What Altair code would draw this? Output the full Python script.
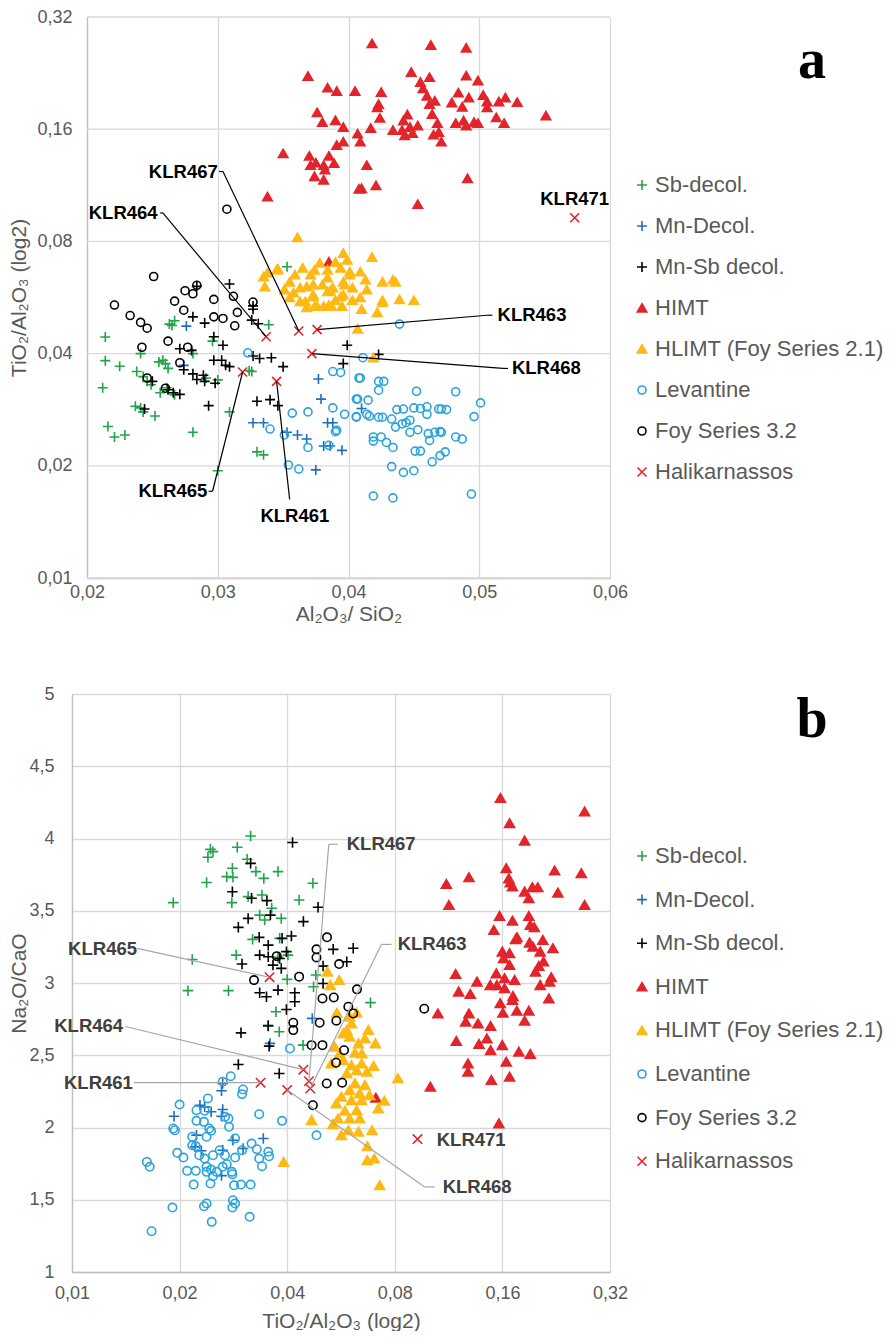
import altair as alt
import pandas as pd

# ---------------- categories / styles ----------------
CATEGORIES = ["Sb-decol.", "Mn-Decol.", "Mn-Sb decol.", "HIMT",
              "HLIMT (Foy Series 2.1)", "Levantine", "Foy Series 3.2", "Halikarnassos"]
STROKES = ["#22a34a", "#1f6dbf", "#000000", "#e3242b", "#ffb914", "#29a3dd", "#000000", "#e3242b"]
FILLS = ["transparent", "transparent", "transparent", "#e3242b", "#ffb914",
         "transparent", "transparent", "transparent"]
PLUS = "M-1,0L1,0M0,-1L0,1"
TRI = "M0,-0.85L0.95,0.8L-0.95,0.8Z"
CIRC = "M0.8,0A0.8,0.8,0,1,1,-0.8,0A0.8,0.8,0,1,1,0.8,0Z"
XSYM = "M-0.9,-0.9L0.9,0.9M-0.9,0.9L0.9,-0.9"
SHAPES = [PLUS, PLUS, PLUS, TRI, TRI, CIRC, CIRC, XSYM]

# ---------------- Halikarnassos samples ----------------
HALI_NAMES = ["KLR461", "KLR463", "KLR464", "KLR465", "KLR467", "KLR468", "KLR471"]
HALI_AL_SI = [0.0345, 0.0376, 0.0337, 0.0319, 0.0362, 0.0372, 0.0573]
HALI_TI_AL = [0.0337, 0.0464, 0.0444, 0.0357, 0.0460, 0.0400, 0.0926]
HALI_NA_CA = [2.31, 2.27, 2.40, 3.04, 2.32, 2.26, 1.92]

# ---------------- axis ticks ----------------
A_X_TICKS = [0.02, 0.03, 0.04, 0.05, 0.06]
LOG2_TICKS = [0.01, 0.02, 0.04, 0.08, 0.16, 0.32]
B_Y_TICKS = [1, 1.5, 2, 2.5, 3, 3.5, 4, 4.5, 5]

# ---------------- panel a: Al2O3/SiO2 vs TiO2/Al2O3 ----------------
A_SB = [(0.0353,0.0684),(0.0339,0.0478),(0.0263,0.0480),(0.0267,0.0490),(0.0265,0.0476),(0.0214,0.0443),
        (0.0241,0.0400),(0.0214,0.0383),(0.0225,0.0370),(0.0255,0.0380),(0.0258,0.0384),(0.0260,0.0376),
        (0.0262,0.0365),(0.0281,0.0400),(0.0296,0.0432),(0.0238,0.0358),(0.0243,0.0347),(0.0246,0.0337),
        (0.0249,0.0330),(0.0261,0.0324),(0.0212,0.0324),(0.0256,0.0314),(0.0267,0.0310),(0.0300,0.0340),
        (0.0291,0.0344),(0.0237,0.0289),(0.0241,0.0286),(0.0243,0.0279),(0.0252,0.0272),(0.0309,0.0279),
        (0.0216,0.0255),(0.0221,0.0239),(0.0229,0.0242),(0.0281,0.0246),(0.0330,0.0218),(0.0335,0.0214),
        (0.0300,0.0194),(0.0324,0.0360),(0.0326,0.0358)]
A_MN = [(0.0276,0.0474),(0.0274,0.0372),(0.0377,0.0342),(0.0379,0.0302),(0.0327,0.0261),(0.0335,0.0261),
        (0.0353,0.0246),(0.0361,0.0242),(0.0368,0.0236),(0.0384,0.0261),(0.0388,0.0261),(0.0381,0.0226),
        (0.0386,0.0226),(0.0395,0.0220),(0.0375,0.0195),(0.0410,0.0285)]
A_MNSB = [(0.0284,0.0606),(0.0309,0.0615),(0.0327,0.0537),(0.0327,0.0526),(0.0281,0.0502),(0.0290,0.0483),
          (0.0297,0.0444),(0.0304,0.0421),(0.0326,0.0492),(0.0331,0.0481),(0.0271,0.0412),(0.0280,0.0408),
          (0.0297,0.0384),(0.0303,0.0384),(0.0306,0.0372),(0.0309,0.0369),(0.0327,0.0394),(0.0332,0.0388),
          (0.0341,0.0390),(0.0350,0.0369),(0.0274,0.0362),(0.0281,0.0353),(0.0289,0.0350),(0.0284,0.0341),
          (0.0290,0.0337),(0.0298,0.0333),(0.0250,0.0337),(0.0262,0.0320),(0.0266,0.0314),(0.0271,0.0311),
          (0.0244,0.0284),(0.0293,0.0290),(0.0330,0.0298),(0.0340,0.0301),(0.0346,0.0290),(0.0399,0.0421),
          (0.0396,0.0376),(0.0423,0.0398)]
A_HIMT = [(0.0369,0.222),(0.0384,0.2066),(0.0391,0.2024),(0.0405,0.2024),(0.0376,0.1774),(0.0380,0.167),
          (0.0390,0.169),(0.0396,0.162),(0.0407,0.1555),(0.0391,0.145),(0.0396,0.148),(0.0350,0.1377),
          (0.0370,0.1356),(0.0385,0.1356),(0.0371,0.128),(0.0375,0.130),(0.0381,0.128),(0.0389,0.1296),
          (0.0382,0.1245),(0.0374,0.1195),(0.0381,0.117),(0.0338,0.1054),(0.0408,0.1106),(0.0385,0.0705),
          (0.0418,0.2716),(0.0463,0.269),(0.0490,0.2645),(0.0448,0.2277),(0.0455,0.214),(0.0462,0.2205),
          (0.0490,0.2226),(0.0499,0.216),(0.0457,0.2057),(0.0425,0.201),(0.0460,0.1965),(0.0466,0.1905),
          (0.0462,0.1866),(0.0423,0.1866),(0.0422,0.183),(0.0424,0.1714),(0.0445,0.175),(0.0442,0.1687),
          (0.0464,0.1756),(0.0468,0.166),(0.0484,0.2004),(0.0479,0.1886),(0.0492,0.1944),(0.0487,0.1837),
          (0.0503,0.1975),(0.0506,0.1897),(0.0506,0.183),(0.0515,0.1897),(0.0520,0.1944),(0.0529,0.189),
          (0.0513,0.172),(0.0519,0.166),(0.0551,0.174),(0.0482,0.166),(0.0488,0.1687),(0.0490,0.1636),
          (0.0496,0.167),(0.0499,0.166),(0.0434,0.159),(0.0441,0.159),(0.0443,0.154),(0.0447,0.162),
          (0.0449,0.156),(0.0453,0.1636),(0.0417,0.161),(0.0409,0.148),(0.0465,0.1546),(0.0469,0.157),
          (0.0471,0.148),(0.0414,0.128),(0.0410,0.111),(0.0421,0.113),(0.0491,0.118),(0.0453,0.1006)]
A_HLIMT = [(0.0361,0.0820),(0.0345,0.0671),(0.0374,0.0671),(0.0396,0.0744),(0.0335,0.0643),(0.0336,0.0605),
           (0.0418,0.0726),(0.0409,0.0663),(0.0426,0.0623),(0.0436,0.0623),(0.0414,0.0594),(0.0439,0.0559),
           (0.0450,0.0556),(0.0426,0.0556),(0.0365,0.0679),(0.0384,0.0671),(0.0390,0.0704),(0.0399,0.0713),
           (0.0434,0.0631),(0.0368,0.0605),(0.0380,0.0612),(0.0388,0.0601),(0.0396,0.0623),(0.0409,0.0566),
           (0.0426,0.0549),(0.0422,0.0516),(0.0410,0.0526),(0.0395,0.0536),(0.0387,0.0536),(0.0381,0.0536),
           (0.0374,0.0536),(0.0367,0.0552),(0.0373,0.0576),(0.0384,0.0587),(0.0394,0.0569),(0.0407,0.0466),
           (0.0419,0.0390),(0.0338,0.0659),(0.0346,0.0675),(0.0355,0.0623),(0.0363,0.0601),(0.0373,0.0612),
           (0.0384,0.0639),(0.0394,0.0679),(0.0401,0.0651),(0.0355,0.0566),(0.0363,0.0552),(0.0373,0.0569),
           (0.0386,0.0590),(0.0396,0.0576),(0.0368,0.0532),(0.0376,0.0536),(0.0385,0.0540),(0.0403,0.0601),
           (0.0358,0.0583),(0.0403,0.0556),(0.0401,0.0663),(0.0378,0.0700),(0.0371,0.0651),(0.0359,0.0651),
           (0.0351,0.0594),(0.0390,0.0556),(0.0397,0.0612),(0.0413,0.0631)]
A_LEV = [(0.0323,0.0402),(0.0357,0.0277),(0.0369,0.0279),(0.0340,0.0251),(0.0351,0.0242),(0.0369,0.0224),
         (0.0385,0.0227),(0.0388,0.0286),(0.0397,0.0275),(0.0406,0.0271),(0.0390,0.0247),(0.0388,0.0358),
         (0.0394,0.0356),(0.0408,0.0344),(0.0406,0.0302),(0.0354,0.0201),(0.0362,0.0196),(0.0439,0.0480),
         (0.0411,0.0390),(0.0409,0.0344),(0.0423,0.0337),(0.0427,0.0337),(0.0423,0.0319),(0.0452,0.0317),
         (0.0482,0.0316),(0.0501,0.0295),(0.0407,0.0302),(0.0415,0.0300),(0.0406,0.0270),(0.0414,0.0275),
         (0.0416,0.0272),(0.0423,0.0270),(0.0426,0.0270),(0.0437,0.0283),(0.0442,0.0284),(0.0450,0.0286),
         (0.0455,0.0285),(0.0460,0.0288),(0.0460,0.0275),(0.0469,0.0284),(0.0471,0.0284),(0.0475,0.0283),
         (0.0496,0.0271),(0.0433,0.0267),(0.0436,0.0254),(0.0441,0.0259),(0.0444,0.0261),(0.0447,0.0265),
         (0.0447,0.0246),(0.0453,0.0250),(0.0461,0.0244),(0.0462,0.0234),(0.0466,0.0246),(0.0470,0.0247),
         (0.0471,0.0246),(0.0482,0.0239),(0.0487,0.0236),(0.0391,0.0249),(0.0419,0.0239),(0.0419,0.0233),
         (0.0425,0.0239),(0.0429,0.0231),(0.0434,0.0224),(0.0451,0.0219),(0.0455,0.0219),(0.0464,0.0205),
         (0.0470,0.0213),(0.0474,0.0218),(0.0433,0.0199),(0.0442,0.0192),(0.0450,0.0194),(0.0419,0.0166),
         (0.0434,0.0164),(0.0494,0.0168)]
A_FOY = [(0.0307,0.0976),(0.0251,0.0644),(0.0284,0.0610),(0.0275,0.0590),(0.0281,0.0579),(0.0297,0.0559),
         (0.0312,0.0570),(0.0267,0.0553),(0.0221,0.0540),(0.0327,0.0550),(0.0274,0.0523),(0.0297,0.0502),
         (0.0304,0.0497),(0.0315,0.0516),(0.0313,0.0475),(0.0233,0.0506),(0.0241,0.0485),(0.0246,0.0468),
         (0.0262,0.0432),(0.0242,0.0416),(0.0277,0.0416),(0.0271,0.0378),(0.0246,0.0344),(0.0260,0.0323)]

# ---------------- panel b: TiO2/Al2O3 vs Na2O/CaO ----------------
B_SB = [(0.0316,4.017),(0.0244,3.925),(0.0248,3.909),(0.0240,3.870),(0.0290,3.939),(0.0309,3.856),
        (0.0281,3.794),(0.0271,3.736),(0.0282,3.731),(0.0327,3.771),(0.0344,3.724),(0.0377,3.771),
        (0.0472,3.690),(0.0238,3.695),(0.0280,3.556),(0.0311,3.598),(0.0340,3.609),(0.0192,3.556),
        (0.0432,3.574),(0.0362,3.517),(0.0335,3.470),(0.0346,3.436),(0.0385,3.447),(0.0320,3.302),
        (0.0381,3.309),(0.0217,3.163),(0.0288,3.193),(0.0377,3.177),(0.0402,3.193),(0.0211,2.947),
        (0.0274,2.947),(0.0400,3.025),(0.0481,3.055),(0.0474,2.974),(0.0372,2.801),(0.0354,2.708),
        (0.0380,2.663),(0.0684,2.864),(0.0443,2.570)]
B_MN = [(0.0264,2.305),(0.0262,2.254),(0.0193,2.078),(0.0228,2.154),(0.0235,2.143),(0.0245,2.109),
        (0.0264,2.125),(0.0262,2.078),(0.0223,1.947),(0.0221,1.866),(0.0230,1.839),(0.0264,1.843),
        (0.0282,1.912),(0.0301,1.855),(0.0343,1.924),(0.0262,1.667),(0.0358,2.582),(0.0470,2.755)]
B_MNSB = [(0.0414,3.972),(0.0316,3.828),(0.0281,3.632),(0.0318,3.586),(0.0351,3.570),(0.0488,3.524),
          (0.0359,3.470),(0.0311,3.447),(0.0292,3.385),(0.0444,3.425),(0.0334,3.316),(0.0354,3.262),
          (0.0387,3.309),(0.0411,3.325),(0.0335,3.193),(0.0354,3.182),(0.0381,3.170),(0.0398,3.217),
          (0.0299,3.131),(0.0365,3.124),(0.0385,3.101),(0.0538,3.233),(0.0612,3.240),(0.0504,3.117),
          (0.0587,3.147),(0.0335,2.933),(0.0350,2.905),(0.0377,2.951),(0.0420,2.933),(0.0420,2.870),
          (0.0398,2.817),(0.0504,2.997),(0.0354,2.702),(0.0297,2.655),(0.0356,2.563),(0.0292,2.436),
          (0.0380,2.374)]
B_HIMT = [(0.158,4.28),(0.2717,4.186),(0.1676,4.105),(0.1846,3.985),(0.164,3.794),(0.224,3.778),
          (0.266,3.759),(0.129,3.731),(0.1115,3.685),(0.1668,3.724),(0.1684,3.695),(0.1707,3.667),
          (0.1846,3.632),(0.1897,3.586),(0.1940,3.662),(0.201,3.662),(0.2287,3.625),(0.2717,3.539),
          (0.1134,3.539),(0.1571,3.463),(0.1707,3.431),(0.1897,3.463),(0.1514,3.366),(0.1915,3.401),
          (0.1965,3.385),(0.1742,3.302),(0.1758,3.316),(0.2076,3.297),(0.1906,3.279),(0.1947,3.251),
          (0.1599,3.217),(0.1676,3.205),(0.1612,3.171),(0.2041,3.217),(0.2215,3.240),(0.2085,3.148),
          (0.1676,3.124),(0.2023,3.117),(0.198,3.078),(0.1538,3.066),(0.1623,3.032),(0.1731,3.020),
          (0.1184,3.062),(0.1358,3.009),(0.148,2.985),(0.1544,2.985),(0.1623,2.963),(0.2192,3.039),
          (0.2168,3.009),(0.2041,2.985),(0.1207,2.940),(0.1301,2.923),(0.1713,2.909),(0.1707,2.882),
          (0.2158,2.893),(0.1578,2.859),(0.1756,2.808),(0.1897,2.808),(0.129,2.789),(0.1056,2.789),
          (0.1605,2.794),(0.1846,2.739),(0.1263,2.732),(0.1367,2.720),(0.1483,2.702),(0.1448,2.616),
          (0.1189,2.598),(0.1376,2.577),(0.1483,2.535),(0.1599,2.570),(0.1779,2.524),(0.1915,2.508),
          (0.164,2.455),(0.1282,2.443),(0.1282,2.386),(0.1676,2.351),(0.149,2.328),(0.1006,2.282),
          (0.0708,2.206),(0.1564,2.028)]
B_HLIMT = [(0.0518,3.078),(0.0528,2.985),(0.0559,3.020),(0.0675,2.674),(0.0551,2.794),(0.0626,2.794),
           (0.0605,2.720),(0.0587,2.674),(0.0598,2.767),(0.0660,2.616),(0.0706,2.582),(0.0633,2.582),
           (0.0598,2.628),(0.0574,2.651),(0.0543,2.559),(0.0531,2.443),(0.0574,2.466),(0.0605,2.431),
           (0.0646,2.443),(0.0698,2.425),(0.0668,2.386),(0.0626,2.397),(0.0587,2.374),(0.0619,2.517),
           (0.0619,2.305),(0.0660,2.293),(0.0638,2.236),(0.0598,2.258),(0.0567,2.213),(0.0605,2.189),
           (0.0646,2.189),(0.0680,2.224),(0.0748,2.185),(0.0719,2.132),(0.0816,2.340),(0.0549,2.166),
           (0.0580,2.116),(0.0626,2.120),(0.0638,2.062),(0.0598,2.062),(0.0555,2.062),(0.0537,2.023),
           (0.0468,2.051),(0.0567,1.947),(0.0593,1.981),(0.0633,1.970),(0.0691,1.981),(0.0670,1.870),
           (0.0670,1.774),(0.0701,1.785),(0.0726,1.600),(0.0391,1.762),(0.0561,2.512),(0.0647,2.512)]
B_LEV = [(0.0407,2.547),(0.0278,2.355),(0.0264,2.317),(0.0301,2.263),(0.0299,2.231),(0.0240,2.201),
         (0.0200,2.159),(0.0223,2.120),(0.0235,2.116),(0.0334,2.092),(0.0387,2.046),(0.0268,2.074),
         (0.0274,2.062),(0.0223,2.046),(0.0234,2.039),(0.0242,1.993),(0.0245,1.977),(0.0275,2.005),
         (0.0192,1.993),(0.0194,1.981),(0.0217,1.936),(0.0238,1.936),(0.0217,1.877),(0.0222,1.871),
         (0.0286,1.924),(0.0318,1.889),(0.0329,1.850),(0.0354,1.832),(0.0356,1.801),(0.0197,1.825),
         (0.0205,1.792),(0.0227,1.808),(0.0235,1.785),(0.0248,1.808),(0.0259,1.843),(0.0268,1.808),
         (0.0286,1.792),(0.0299,1.843),(0.0334,1.785),(0.0162,1.762),(0.0165,1.728),(0.0238,1.728),
         (0.0245,1.709),(0.0264,1.728),(0.0271,1.746),(0.0340,1.732),(0.0210,1.700),(0.0222,1.700),
         (0.0238,1.693),(0.0254,1.693),(0.0280,1.693),(0.0281,1.677),(0.0248,1.663),(0.0219,1.605),
         (0.0244,1.612),(0.0284,1.600),(0.0297,1.605),(0.0316,1.605),(0.0191,1.446),(0.0234,1.455),
         (0.0238,1.474),(0.0282,1.497),(0.0286,1.474),(0.0281,1.446),(0.0314,1.382),(0.0246,1.347),
         (0.0167,1.282),(0.0483,1.946)]
B_FOY = [(0.0517,3.316),(0.0483,3.233),(0.0374,3.186),(0.0483,3.177),(0.0559,3.131),(0.0432,3.044),
         (0.0323,3.020),(0.0502,2.893),(0.0540,2.900),(0.0627,2.956),(0.0416,2.725),(0.0493,2.725),
         (0.0549,2.739),(0.0967,2.822),(0.0593,2.836),(0.0612,2.789),(0.0416,2.674),(0.0468,2.570),
         (0.0502,2.570),(0.0577,2.535),(0.0548,2.448),(0.0516,2.305),(0.0570,2.310),(0.0472,2.154)]

# ---------------- annotation layout (label anchor + elbow, in data units) ----------------
LABELS_A = [("KLR467", 0.0300, 0.1232, "right"), ("KLR464", 0.0254, 0.0954, "right"),
            ("KLR463", 0.0514, 0.0507, "left"), ("KLR468", 0.0525, 0.0365, "left"),
            ("KLR465", 0.0292, 0.01709, "right"), ("KLR461", 0.0359, 0.01467, "center"),
            ("KLR471", 0.0573, 0.1039, "center")]
LEADERS_A = [("KLR467", (0.0301, 0.1232), (0.0304, 0.1232)),
             ("KLR464", (0.0256, 0.0954), (0.0258, 0.0954)),
             ("KLR463", (0.0510, 0.0507), (0.0506, 0.0507)),
             ("KLR468", (0.0522, 0.0365), (0.0518, 0.0365)),
             ("KLR465", (0.0293, 0.01709), (0.0296, 0.01709)),
             ("KLR461", (0.0355, 0.01626), (0.0355, 0.01626))]
LABELS_B = [("KLR467", 0.0587, 3.96, "left"), ("KLR463", 0.0815, 3.267, "left"),
            ("KLR465", 0.0152, 3.233, "right"), ("KLR464", 0.0139, 2.699, "right"),
            ("KLR461", 0.0148, 2.311, "right"), ("KLR468", 0.1089, 1.589, "left"),
            ("KLR471", 0.1048, 1.914, "left")]
LEADERS_B = [("KLR467", (0.0554, 3.96), (0.0523, 3.96)),
             ("KLR463", (0.0783, 3.267), (0.0734, 3.267)),
             ("KLR465", (0.0152, 3.240), (0.0152, 3.240)),
             ("KLR464", (0.0141, 2.699), (0.0141, 2.699)),
             ("KLR461", (0.0149, 2.311), (0.0149, 2.311)),
             ("KLR468", (0.1034, 1.589), (0.0970, 1.589))]


def points_frame(series, hx, hy):
    rows = []
    for cat, pts in zip(CATEGORIES[:7], series):
        rows += [{"group": cat, "x": x, "y": y} for x, y in pts]
    rows += [{"group": CATEGORIES[7], "x": x, "y": y} for x, y in zip(hx, hy)]
    return pd.DataFrame(rows)


def leader_frame(leaders, hx, hy):
    idx = {n: i for i, n in enumerate(HALI_NAMES)}
    rows = []
    for name, (sx, sy), (ex, ey) in leaders:
        i = idx[name]
        rows.append({"x": sx, "y": sy, "x2": ex, "y2": ey})
        rows.append({"x": ex, "y": ey, "x2": hx[i], "y2": hy[i]})
    return pd.DataFrame(rows)


def label_frame(labels):
    return pd.DataFrame([{"name": n, "x": x, "y": y, "align": a} for n, x, y, a in labels])


stroke_scale = alt.Scale(domain=CATEGORIES, range=STROKES)
fill_scale = alt.Scale(domain=CATEGORIES, range=FILLS)
shape_scale = alt.Scale(domain=CATEGORIES, range=SHAPES)

GRID = "#d9d9d9"
AXIS_COMMON = dict(ticks=False, labelFont="Liberation Sans", labelFontSize=18, labelColor="#595959",
                   titleFont="Liberation Sans", titleFontSize=21, titleColor="#595959",
                   titleFontWeight="normal", domainColor="#bfbfbf", domainWidth=1.3,
                   gridColor=GRID, gridWidth=1.3, labelFlush=False)
DEC2 = "replace(format(datum.value, '.2f'), '.', ',')"


def legend(lx, ly, row_pad):
    return alt.Legend(title=None, orient="none", legendX=lx, legendY=ly, labelFontSize=22,
                      labelFont="Liberation Sans", labelColor="#595959", symbolSize=100,
                      symbolStrokeWidth=1.6, rowPadding=row_pad, labelOffset=2, padding=0,
                      labelLimit=400)


def panel(df, xenc, yenc, leaders, labels, text_color, line_color, size, leg, letter, letter_xy,
          extra_grid=None):
    layers = []
    if extra_grid is not None:
        layers.append(extra_grid)
    pts = alt.Chart(df).mark_point(size=size, strokeWidth=1.6, opacity=1).encode(
        x=xenc, y=yenc,
        stroke=alt.Stroke("group:N", scale=stroke_scale, legend=leg),
        fill=alt.Fill("group:N", scale=fill_scale, legend=leg),
        shape=alt.Shape("group:N", scale=shape_scale, legend=leg),
    )
    rules = alt.Chart(leaders).mark_rule(color=line_color, strokeWidth=1.2).encode(
        x="x:Q", y="y:Q", x2="x2:Q", y2="y2:Q")
    layers += [pts, rules]
    for al in ["left", "right", "center"]:
        sub = labels[labels["align"] == al]
        layers.append(alt.Chart(sub).mark_text(align=al, baseline="middle", font="Liberation Sans",
                                               fontSize=18.5, fontWeight="bold", color=text_color)
                      .encode(x="x:Q", y="y:Q", text="name:N"))
    layers.append(alt.Chart(pd.DataFrame({"t": [letter]})).mark_text(
        align="center", baseline="alphabetic", font="Liberation Serif", fontSize=56,
        fontWeight="bold", color="#000000").encode(
        x=alt.value(letter_xy[0]), y=alt.value(letter_xy[1]), text="t:N"))
    return alt.layer(*layers)


# ---- panel a  (group is 538 wide; plot range starts 15 px in, so both panels share an origin)
df_a = points_frame([A_SB, A_MN, A_MNSB, A_HIMT, A_HLIMT, A_LEV, A_FOY], HALI_AL_SI, HALI_TI_AL)
xa = alt.X("x:Q", scale=alt.Scale(domain=[0.02, 0.06], nice=False, zero=False, range=[15, 538]),
           axis=alt.Axis(values=A_X_TICKS, labelExpr=DEC2,
                         title="Al₂O₃/ SiO₂", labelPadding=5, titlePadding=2, **AXIS_COMMON))
ya = alt.Y("y:Q", scale=alt.Scale(type="log", base=2, domain=[0.01, 0.32], nice=False),
           axis=alt.Axis(values=LOG2_TICKS, labelExpr=DEC2, grid=False, offset=-15,
                         title="TiO₂/Al₂O₃ (log2)", labelPadding=15, titleX=-68,
                         titleBaseline="middle", **AXIS_COMMON))
grid_a = alt.Chart(pd.DataFrame({"y": LOG2_TICKS, "x": A_X_TICKS[0], "x2": A_X_TICKS[-1]})).mark_rule(
    color=GRID, strokeWidth=1.3).encode(x="x:Q", x2="x2:Q", y="y:Q")
chart_a = panel(df_a, xa, ya, leader_frame(LEADERS_A, HALI_AL_SI, HALI_TI_AL), label_frame(LABELS_A),
                "#000000", "#000000", 100, legend(559, 157, 19), "a", (740, 61), extra_grid=grid_a
                ).properties(width=538, height=561)

# ---- panel b
df_b = points_frame([B_SB, B_MN, B_MNSB, B_HIMT, B_HLIMT, B_LEV, B_FOY], HALI_TI_AL, HALI_NA_CA)
xb = alt.X("x:Q", scale=alt.Scale(type="log", base=2, domain=[0.01, 0.32], nice=False),
           axis=alt.Axis(values=LOG2_TICKS, labelExpr=DEC2,
                         title="TiO₂/Al₂O₃ (log2)", labelPadding=12, titlePadding=8, **AXIS_COMMON))
yb = alt.Y("y:Q", scale=alt.Scale(domain=[1, 5], nice=False, zero=False),
           axis=alt.Axis(values=B_Y_TICKS,
                         labelExpr="replace(format(datum.value, '~g'), '.', ',')",
                         title="Na₂O/CaO", labelPadding=18, titleX=-53, titleBaseline="middle",
                         **AXIS_COMMON))
chart_b = panel(df_b, xb, yb, leader_frame(LEADERS_B, HALI_TI_AL, HALI_NA_CA), label_frame(LABELS_B),
                "#404040", "#a6a6a6", 110, legend(559, 151, 21.6), "b", (740, 43)
                ).properties(width=538, height=578)

chart = alt.vconcat(chart_a, chart_b, spacing=61).resolve_scale(
    stroke="independent", fill="independent", shape="independent"
).resolve_legend(
    stroke="independent", fill="independent", shape="independent"
).properties(padding=0).configure_view(stroke=None)

chart.save("out.html", embed_options={"renderer": "svg", "actions": False})
